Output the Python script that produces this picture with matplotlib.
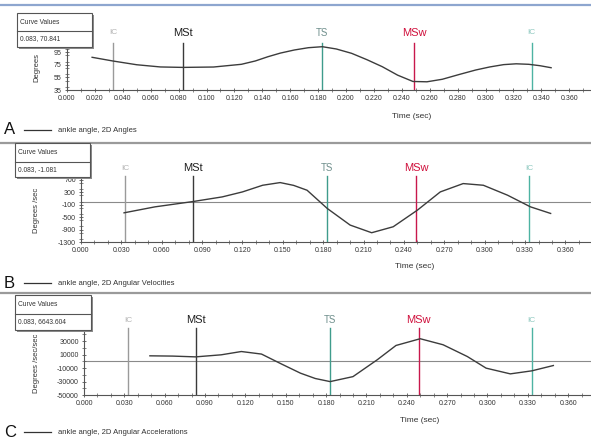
import matplotlib
matplotlib.use("Agg")
import matplotlib.pyplot as plt
from matplotlib.patches import Rectangle
from matplotlib.lines import Line2D
from matplotlib.ticker import MultipleLocator, FixedLocator

plt.rcParams['font.family'] = ['Liberation Sans', 'DejaVu Sans']
plt.rcParams['axes.unicode_minus'] = False

# ---------------- data ----------------
events = ["IC", "MSt", "TS", "MSw", "IC"]
event_times = [0.033, 0.083, 0.183, 0.249, 0.333]

angle_t = [0.018, 0.033, 0.050, 0.067, 0.083, 0.105, 0.125, 0.135, 0.144, 0.153, 0.163,
           0.173, 0.183, 0.193, 0.204, 0.215, 0.226, 0.237, 0.248, 0.258, 0.269,
           0.281, 0.293, 0.303, 0.313, 0.322, 0.331, 0.339, 0.347]
angle_v = [86.8, 80.9, 75.0, 71.5, 70.8, 71.4, 75.7, 81.0, 87.7, 93.5, 98.4,
           102.0, 103.6, 100.0, 93.1, 83.0, 71.9, 58.5, 48.5, 48.0, 52.0,
           59.5, 66.7, 71.5, 75.2, 76.5, 75.7, 73.5, 70.3]

vel_t = [0.032, 0.055, 0.083, 0.105, 0.120, 0.135, 0.148, 0.158, 0.168, 0.183, 0.200,
         0.216, 0.232, 0.250, 0.267, 0.284, 0.299, 0.317, 0.334, 0.349]
vel_v = [-362, -170, -1.081, 150, 310, 524, 610, 520, 364, -222, -756,
         -1002, -810, -276, 310, 578, 524, 204, -170, -382]

acc_t = [0.049, 0.066, 0.083, 0.102, 0.117, 0.132, 0.147, 0.161, 0.172, 0.183, 0.200,
         0.218, 0.232, 0.250, 0.267, 0.285, 0.299, 0.317, 0.333, 0.349]
acc_v = [8200, 7800, 6643.604, 9700, 14600, 10800, -4100, -17600, -25500, -30100, -22700,
         2250, 23600, 33600, 24650, 7200, -10100, -18600, -14100, -6200]

panel_letters = ["A", "B", "C"]
legend_texts = ["ankle angle, 2D Angles", "ankle angle, 2D Angular Velocities",
                "ankle angle, 2D Angular Accelerations"]
ylabels = ["Degrees", "Degrees /sec", "Degrees /sec/sec"]
box_values = ["0.083, 70.841", "0.083, -1.081", "0.083, 6643.604"]

# ---------------- layout helpers ----------------
W, H = 591, 444
fig = plt.figure(figsize=(W / 100, H / 100), dpi=100)
fig.patch.set_facecolor("white")


def fx(px):
    return px / W


def fy(py):
    return 1 - py / H


def make_ax(left, top, bottom, right=W):
    return fig.add_axes([fx(left), fy(bottom), (right - left) / W, (bottom - top) / H])


ev_line_colors = ["#9a9a9a", "#3a3a3a", "#3f9c8c", "#c8184c", "#4db3a3"]
ev_text_colors = ["#b5b5b5", "#202020", "#6f8f8c", "#d0103c", "#8fc9c0"]
ev_sizes = [6, 8, 7, 8, 6]

curve_color = "#3c3c3c"
spine_color = "#555555"

panels = [
    dict(t=angle_t, v=angle_v, left=67, top=39.5, bottom=90, xlim=(0, 0.3756),
         ylim=(35, 115), yticks=[35, 55, 75, 95], ymin_step=10,
         xmaj=0.02, line_top=43, lab_y=33, zero=False,
         xlabel_pos=(412, 117), legend_y=130,
         box=(17, 13, 92, 47, 31), sep=5, sep_color="#8ea6cf"),
    dict(t=vel_t, v=vel_v, left=81, top=172, bottom=242, xlim=(0, 0.379),
         ylim=(-1300, 950), yticks=[-1300, -900, -500, -100, 300, 700], ymin_step=200,
         xmaj=0.03, line_top=176, lab_y=168, zero=True,
         xlabel_pos=(415, 267), legend_y=283,
         box=(15, 143, 90, 177, 162), sep=143, sep_color="#9a9a9a"),
    dict(t=acc_t, v=acc_v, left=84, top=325, bottom=395, xlim=(0, 0.377),
         ylim=(-50000, 54000), yticks=[-50000, -30000, -10000, 10000, 30000], ymin_step=10000,
         xmaj=0.03, line_top=328, lab_y=320, zero=True,
         xlabel_pos=(420, 420), legend_y=432,
         box=(15, 295, 91, 330, 314), sep=293, sep_color="#9a9a9a"),
]

for i, p in enumerate(panels):
    # separator line across the panel top
    fig.add_artist(Line2D([0, 1], [fy(p["sep"]), fy(p["sep"])], color=p["sep_color"],
                          lw=1.6, zorder=0))

    ax = make_ax(p["left"], p["top"], p["bottom"])
    ax.set_facecolor("none")
    ax.set_xlim(*p["xlim"])
    ax.set_ylim(*p["ylim"])
    for s in ["top", "right"]:
        ax.spines[s].set_visible(False)
    for s in ["left", "bottom"]:
        ax.spines[s].set_color(spine_color)
        ax.spines[s].set_linewidth(0.8)

    ax.xaxis.set_major_locator(MultipleLocator(p["xmaj"]))
    ax.xaxis.set_minor_locator(MultipleLocator(0.01))
    ax.yaxis.set_major_locator(FixedLocator(p["yticks"]))
    ax.yaxis.set_minor_locator(MultipleLocator(p["ymin_step"]))
    ax.xaxis.set_major_formatter(plt.FuncFormatter(lambda v, pos: f"{v:.3f}"))
    ax.tick_params(axis="both", which="major", direction="inout", length=3.5, width=0.6,
                   color=spine_color, labelsize=5, labelcolor="#333333", pad=2)
    ax.tick_params(axis="both", which="minor", direction="inout", length=2.5, width=0.5,
                   color=spine_color)

    if p["zero"]:
        ax.axhline(0, color="#8a8a8a", lw=0.8, zorder=1)

    H_ax = p["bottom"] - p["top"]
    line_frac = (p["bottom"] - p["line_top"]) / H_ax
    lab_frac = (p["bottom"] - p["lab_y"]) / H_ax
    for name, et, lc, tc, fs in zip(events, event_times, ev_line_colors, ev_text_colors, ev_sizes):
        ax.axvline(et, ymin=0, ymax=line_frac, color=lc, lw=1.0, zorder=2)
        ax.text(et, lab_frac, name, transform=ax.get_xaxis_transform(), ha="center",
                va="center", color=tc, fontsize=fs, clip_on=False)

    ax.plot(p["t"], p["v"], color=curve_color, lw=1.0, zorder=3)

    # y label and x label
    fig.text(fx(37), fy((p["top"] + p["bottom"]) / 2 + 3), ylabels[i], rotation=90,
             ha="center", va="center", fontsize=5.5, color="#333333", zorder=1)
    fig.text(fx(p["xlabel_pos"][0]), fy(p["xlabel_pos"][1]), "Time (sec)", ha="center",
             va="center", fontsize=6, color="#333333")

    # legend-like caption
    ly = p["legend_y"]
    fig.text(fx(4), fy(ly), panel_letters[i], ha="left", va="center", fontsize=12,
             color="#111111")
    fig.add_artist(Line2D([fx(24), fx(51)], [fy(ly), fy(ly)], color="#333333", lw=0.9))
    fig.text(fx(58), fy(ly), legend_texts[i], ha="left", va="center", fontsize=5.5,
             color="#333333")

    # "Curve Values" box with shadow
    bx0, by0, bx1, by1, bdiv = p["box"]
    fig.add_artist(Rectangle((fx(bx0 + 2), fy(by1 + 2)), (bx1 - bx0) / W, (by1 - by0) / H,
                             facecolor="#8c8c8c", edgecolor="none", zorder=9))
    fig.add_artist(Rectangle((fx(bx0), fy(by1)), (bx1 - bx0) / W, (by1 - by0) / H,
                             facecolor="white", edgecolor="#555555", lw=0.8, zorder=10))
    fig.add_artist(Line2D([fx(bx0), fx(bx1)], [fy(bdiv), fy(bdiv)], color="#555555",
                          lw=0.8, zorder=11))
    fig.text(fx(bx0 + 3), fy((by0 + bdiv) / 2), "Curve Values", ha="left", va="center",
             fontsize=4.8, color="#333333", zorder=12)
    fig.text(fx(bx0 + 3), fy((bdiv + by1) / 2), box_values[i], ha="left", va="center",
             fontsize=4.8, color="#333333", zorder=12)

fig.savefig("out.png", dpi=100, facecolor="white")
